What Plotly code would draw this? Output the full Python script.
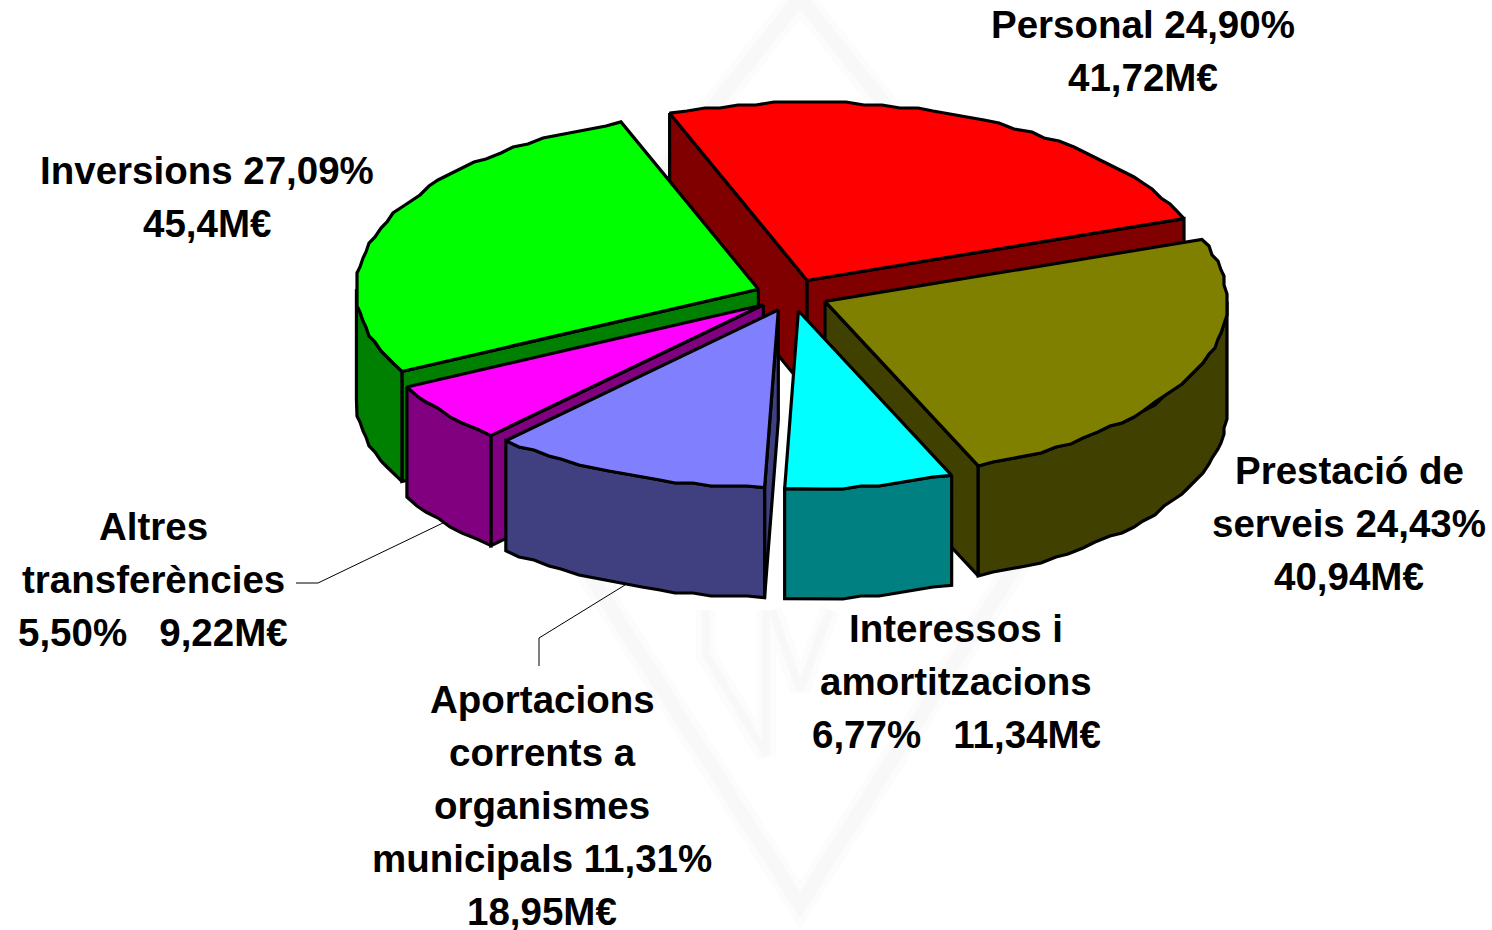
import math
import plotly.graph_objects as go

categories = ["Personal", "Prestació de serveis", "Interessos i amortitzacions",
              "Aportacions corrents a organismes municipals", "Altres transferències", "Inversions"]
shares = [24.90, 24.43, 6.77, 11.31, 5.50, 27.09]
amounts = [41.72, 40.94, 11.34, 18.95, 9.22, 45.4]
top_colors = ["#FF0000", "#808000", "#00FFFF", "#8080FF", "#FF00FF", "#00FF00"]
side_colors = ["#800000", "#404000", "#008080", "#404080", "#800080", "#008000"]
draw_order = [0, 5, 4, 1, 3, 2]

label_lines = [
    ["Personal 24,90%", "41,72M€"],
    ["Inversions 27,09%", "45,4M€"],
    ["Prestació de", "serveis 24,43%", "40,94M€"],
    ["Altres", "transferències", "5,50%\u00a0\u00a0\u00a09,22M€"],
    ["Aportacions", "corrents a", "organismes", "municipals 11,31%", "18,95M€"],
    ["Interessos i", "amortitzacions", "6,77%\u00a0\u00a0\u00a011,34M€"],
]
label_x = [1143, 207, 1349, 153, 542, 956]
label_y = [24, 170, 470, 526, 699, 628]
LINE_STEP = 53

CX, CY, RX, RY, DEPTH, EX, EY, START = 792, 295, 402, 178, 110, 36, 16, -20
STROKE = 3.2
QUANT = 3


def point(ax, ay, t):
    r = math.radians(t)
    return ax + RX * math.sin(r), ay - RY * math.cos(r)


def arc(ax, ay, a, b):
    n = max(2, int((b - a) / 2.5))
    pts = []
    for k in range(n + 1):
        x, y = point(ax, ay, a + (b - a) * k / n)
        if 0 < k < n:
            x, y = round(x / QUANT) * QUANT, round(y / QUANT) * QUANT
        pts.append((x, y))
    return pts


fig = go.Figure()


def poly(pts, color, name):
    xs = [p[0] for p in pts] + [pts[0][0]]
    ys = [p[1] for p in pts] + [pts[0][1]]
    fig.add_trace(go.Scatter(x=xs, y=ys, mode="lines", fill="toself", fillcolor=color, name=name,
                             line=dict(color="black", width=STROKE), hoverinfo="name", showlegend=False))


def plain(xs, ys, color, width):
    fig.add_trace(go.Scatter(x=xs, y=ys, mode="lines", line=dict(color=color, width=width),
                             hoverinfo="skip", showlegend=False))


# faint, soft watermark behind the pie
for colour, w in (("#FCFCFC", 26), ("#F8F8F8", 14)):
    plain([800, 479, 800, 1121, 800], [-2, 401, 905, 401, -2], colour, w)
    plain([706, 706, 766, 766], [610, 655, 755, 610], colour, w - 6)
    plain([772, 800, 830], [610, 690, 610], colour, w - 6)

# leader lines
plain([296, 318, 445], [583, 583, 522], "black", 1)
plain([539, 539, 625], [666, 638, 585], "black", 1)

# slice geometry derived from the shares
spans = []
cum = START
for s in shares:
    spans.append((cum, cum + s / 100 * 360))
    cum += s / 100 * 360

for i in draw_order:
    a, b = spans[i]
    m = (a + b) / 2
    ax = CX + EX * math.sin(math.radians(m))
    ay = CY - EY * math.cos(math.radians(m))
    name = categories[i]
    pa = point(ax, ay, a)
    pb = point(ax, ay, b)
    if math.sin(math.radians(a)) < 0:
        poly([(ax, ay), pa, (pa[0], pa[1] + DEPTH), (ax, ay + DEPTH)], side_colors[i], name)
    if math.sin(math.radians(b)) > 0:
        poly([(ax, ay), pb, (pb[0], pb[1] + DEPTH), (ax, ay + DEPTH)], side_colors[i], name)
    lo, hi = max(a, 90), min(b, 270)
    if hi > lo:
        rim = arc(ax, ay, lo, hi)
        poly(rim + [(x, y + DEPTH) for x, y in reversed(rim)], side_colors[i], name)
    poly([(ax, ay)] + arc(ax, ay, a, b), top_colors[i], name)

annotations = []
for lines, lx, ly in zip(label_lines, label_x, label_y):
    for k, text in enumerate(lines):
        annotations.append(dict(x=lx, y=ly + k * LINE_STEP, text="<b>" + text + "</b>", showarrow=False,
                                xanchor="center", yanchor="middle",
                                font=dict(family="Liberation Sans", size=38.5, color="black"),
                                xref="x", yref="y"))

fig.update_layout(
    width=1492, height=930, margin=dict(l=0, r=0, t=0, b=0),
    paper_bgcolor="white", plot_bgcolor="white",
    xaxis=dict(range=[0, 1492], visible=False, fixedrange=True),
    yaxis=dict(range=[930, 0], visible=False, fixedrange=True),
    annotations=annotations,
)
fig.write_html("out.html", config={"displayModeBar": False},
               post_script="document.body.style.margin='0';document.documentElement.style.overflow='hidden';")
